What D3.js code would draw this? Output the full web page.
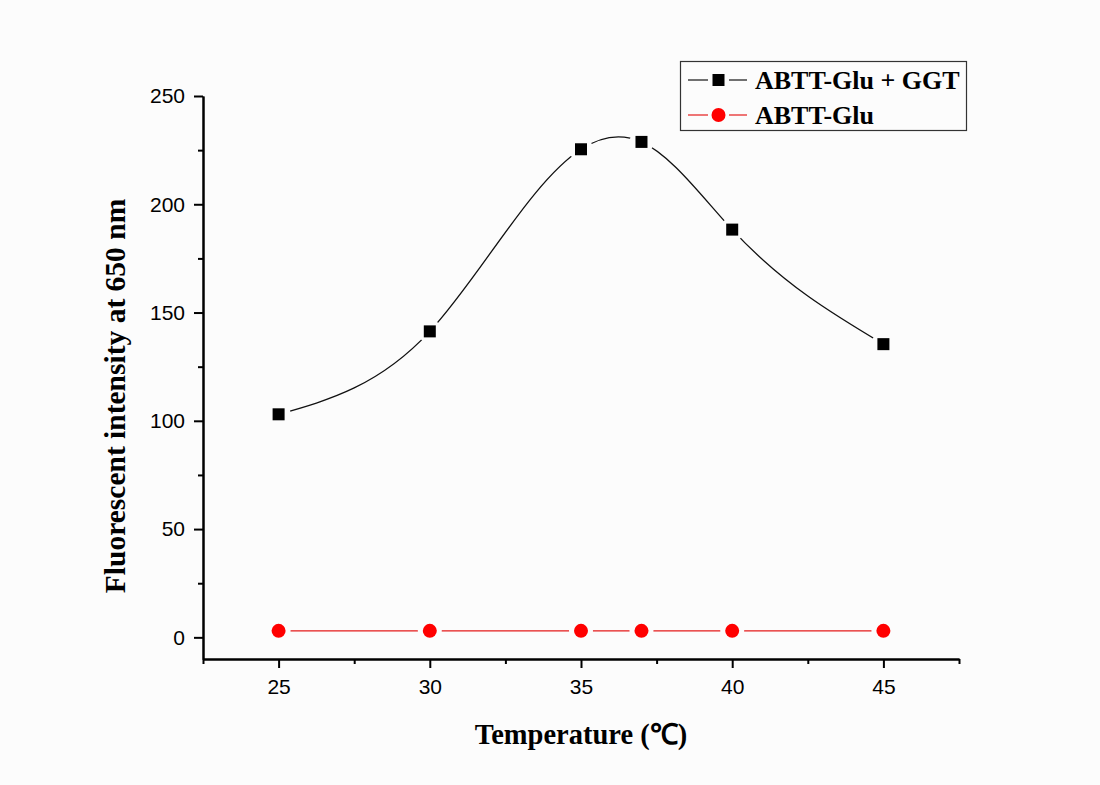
<!DOCTYPE html>
<html>
<head>
<meta charset="utf-8">
<script src="https://cdn.jsdelivr.net/npm/d3@7"></script>
<style>
  html, body { margin: 0; padding: 0; background: #fcfcfc; }
  svg { display: block; }
</style>
</head>
<body>
<div id="chart"></div>
<script>
// values
var temperatures = [25, 30, 35, 37, 40, 45];
var withGGT = [103, 141.3, 225.4, 228.8, 188.3, 135.4];
var probeOnly = [3, 3, 3, 3, 3, 3];
var seriesNames = ['ABTT-Glu + GGT', 'ABTT-Glu'];
var xTicks = [25, 30, 35, 40, 45];
var xMinor = [22.5, 27.5, 32.5, 37.5, 42.5, 47.5];
var yTicks = [0, 50, 100, 150, 200, 250];
var yMinor = [25, 75, 125, 175, 225];

(function (d3) {
    'use strict';

    var W = 1100, H = 785;
    var left = 203, right = 959, top = 96, bottom = 659;

    // natural cubic spline in x (what Origin's "Spline" connect does),
    // written as a d3 curve so d3.line can use it
    function curveSplineX(context) {
        var pts;
        return {
            areaStart: function () {},
            areaEnd: function () {},
            lineStart: function () { pts = []; },
            point: function (px, py) { pts.push([+px, +py]); },
            lineEnd: function () {
                var n = pts.length, i;
                if (!n) { return; }
                context.moveTo(pts[0][0], pts[0][1]);
                if (n < 3) {
                    for (i = 1; i < n; i++) { context.lineTo(pts[i][0], pts[i][1]); }
                    return;
                }
                var h = [], d = [];
                for (i = 0; i < n - 1; i++) {
                    h[i] = pts[i + 1][0] - pts[i][0];
                    d[i] = (pts[i + 1][1] - pts[i][1]) / h[i];
                }
                // tridiagonal solve for second derivatives, natural ends
                var M = new Array(n).fill(0), a = [], b = [], c = [], r = [];
                for (i = 1; i < n - 1; i++) {
                    a[i] = h[i - 1];
                    b[i] = 2 * (h[i - 1] + h[i]);
                    c[i] = h[i];
                    r[i] = 6 * (d[i] - d[i - 1]);
                }
                for (i = 2; i < n - 1; i++) {
                    var f = a[i] / b[i - 1];
                    b[i] -= f * c[i - 1];
                    r[i] -= f * r[i - 1];
                }
                for (i = n - 2; i >= 1; i--) {
                    M[i] = (r[i] - (i < n - 2 ? c[i] * M[i + 1] : 0)) / b[i];
                }
                for (i = 0; i < n - 1; i++) {
                    var m0 = d[i] - h[i] * (2 * M[i] + M[i + 1]) / 6;
                    var m1 = d[i] + h[i] * (M[i] + 2 * M[i + 1]) / 6;
                    context.bezierCurveTo(
                        pts[i][0] + h[i] / 3, pts[i][1] + m0 * h[i] / 3,
                        pts[i + 1][0] - h[i] / 3, pts[i + 1][1] - m1 * h[i] / 3,
                        pts[i + 1][0], pts[i + 1][1]);
                }
            }
        };
    }

    var svg = d3.select('#chart').append('svg')
        .attr('width', W)
        .attr('height', H);

    svg.append('rect')
        .attr('width', W).attr('height', H)
        .attr('fill', '#fcfcfc');

    var x = d3.scaleLinear().domain([22.5, 47.5]).range([left, right]);
    var y = d3.scaleLinear().domain([-10, 250]).range([bottom, top]);

    // mask so the lines stop short of the symbols
    var defs = svg.append('defs');
    var mask = defs.append('mask').attr('id', 'gapMask')
        .attr('maskUnits', 'userSpaceOnUse')
        .attr('x', 0).attr('y', 0).attr('width', W).attr('height', H);
    mask.append('rect').attr('width', W).attr('height', H).attr('fill', 'white');
    temperatures.forEach(function (t, i) {
        mask.append('circle').attr('cx', x(t)).attr('cy', y(withGGT[i])).attr('r', 12).attr('fill', 'black');
        mask.append('circle').attr('cx', x(t)).attr('cy', y(probeOnly[i])).attr('r', 12).attr('fill', 'black');
    });

    var ggtPts = temperatures.map(function (t, i) { return [t, withGGT[i]]; });
    var probePts = temperatures.map(function (t, i) { return [t, probeOnly[i]]; });

    var spline = d3.line()
        .x(function (d) { return x(d[0]); })
        .y(function (d) { return y(d[1]); })
        .curve(curveSplineX);

    var straight = d3.line()
        .x(function (d) { return x(d[0]); })
        .y(function (d) { return y(d[1]); });

    var lines = svg.append('g').attr('mask', 'url(#gapMask)');
    lines.append('path')
        .attr('d', spline(ggtPts))
        .attr('fill', 'none')
        .attr('stroke', '#111')
        .attr('stroke-width', 1.3);
    lines.append('path')
        .attr('d', straight(probePts))
        .attr('fill', 'none')
        .attr('stroke', '#e41a1a')
        .attr('stroke-width', 1.2);

    svg.append('g').selectAll('rect')
        .data(ggtPts)
        .enter().append('rect')
        .attr('x', function (d) { return x(d[0]) - 6; })
        .attr('y', function (d) { return y(d[1]) - 6; })
        .attr('width', 12).attr('height', 12)
        .attr('fill', '#000');

    svg.append('g').selectAll('circle')
        .data(probePts)
        .enter().append('circle')
        .attr('cx', function (d) { return x(d[0]); })
        .attr('cy', function (d) { return y(d[1]); })
        .attr('r', 7)
        .attr('fill', '#ff0000');

    // axes: major ticks with labels, minor ticks without
    function styleAxis(g) {
        g.selectAll('.domain').attr('stroke', '#000').attr('stroke-width', 2);
        g.selectAll('.tick line').attr('stroke', '#000').attr('stroke-width', 2);
        g.selectAll('.tick text')
            .attr('fill', '#000')
            .style('font-family', '"Liberation Sans", Arial, sans-serif')
            .style('font-size', '21px');
    }

    var xAxis = svg.append('g')
        .attr('transform', 'translate(0,' + bottom + ')')
        .call(d3.axisBottom(x).tickValues(xTicks).tickSize(9).tickPadding(11).tickSizeOuter(0));
    styleAxis(xAxis);
    var xAxisMinor = svg.append('g')
        .attr('transform', 'translate(0,' + bottom + ')')
        .call(d3.axisBottom(x).tickValues(xMinor).tickSize(5).tickFormat('').tickSizeOuter(0));
    styleAxis(xAxisMinor);

    var yAxis = svg.append('g')
        .attr('transform', 'translate(' + left + ',0)')
        .call(d3.axisLeft(y).tickValues(yTicks).tickSize(9).tickPadding(9).tickSizeOuter(0));
    styleAxis(yAxis);
    var yAxisMinor = svg.append('g')
        .attr('transform', 'translate(' + left + ',0)')
        .call(d3.axisLeft(y).tickValues(yMinor).tickSize(5).tickFormat('').tickSizeOuter(0));
    styleAxis(yAxisMinor);

    var serif = '"Liberation Serif", "Times New Roman", serif';

    svg.append('text')
        .attr('x', (left + right) / 2)
        .attr('y', 744)
        .attr('text-anchor', 'middle')
        .style('font-family', serif)
        .style('font-weight', 'bold')
        .style('font-size', '28.5px')
        .text('Temperature (\u2103)');

    svg.append('text')
        .attr('transform', 'translate(125,' + 396 + ') rotate(-90)')
        .attr('text-anchor', 'middle')
        .style('font-family', serif)
        .style('font-weight', 'bold')
        .style('font-size', '29.5px')
        .text('Fluorescent intensity at 650 nm');

    // legend
    var legend = svg.append('g');
    legend.append('rect')
        .attr('x', 680.5).attr('y', 61.5)
        .attr('width', 286).attr('height', 69)
        .attr('fill', 'none')
        .attr('stroke', '#333')
        .attr('stroke-width', 1.2);

    var rows = [
        { name: seriesNames[0], color: '#111', shape: 'square', cy: 80 },
        { name: seriesNames[1], color: '#e41a1a', shape: 'circle', cy: 115 }
    ];
    rows.forEach(function (r) {
        var g = legend.append('g');
        g.append('line').attr('x1', 688).attr('x2', 708).attr('y1', r.cy).attr('y2', r.cy)
            .attr('stroke', r.color).attr('stroke-width', 1.2);
        g.append('line').attr('x1', 729).attr('x2', 747).attr('y1', r.cy).attr('y2', r.cy)
            .attr('stroke', r.color).attr('stroke-width', 1.2);
        if (r.shape === 'square') {
            g.append('rect').attr('x', 712.5).attr('y', r.cy - 6).attr('width', 12).attr('height', 12).attr('fill', '#000');
        } else {
            g.append('circle').attr('cx', 718.5).attr('cy', r.cy).attr('r', 7).attr('fill', '#ff0000');
        }
        g.append('text')
            .attr('x', 755)
            .attr('y', r.cy + 9)
            .style('font-family', serif)
            .style('font-weight', 'bold')
            .style('font-size', '26px')
            .text(r.name);
    });

}(window.d3));
</script>
</body>
</html>
